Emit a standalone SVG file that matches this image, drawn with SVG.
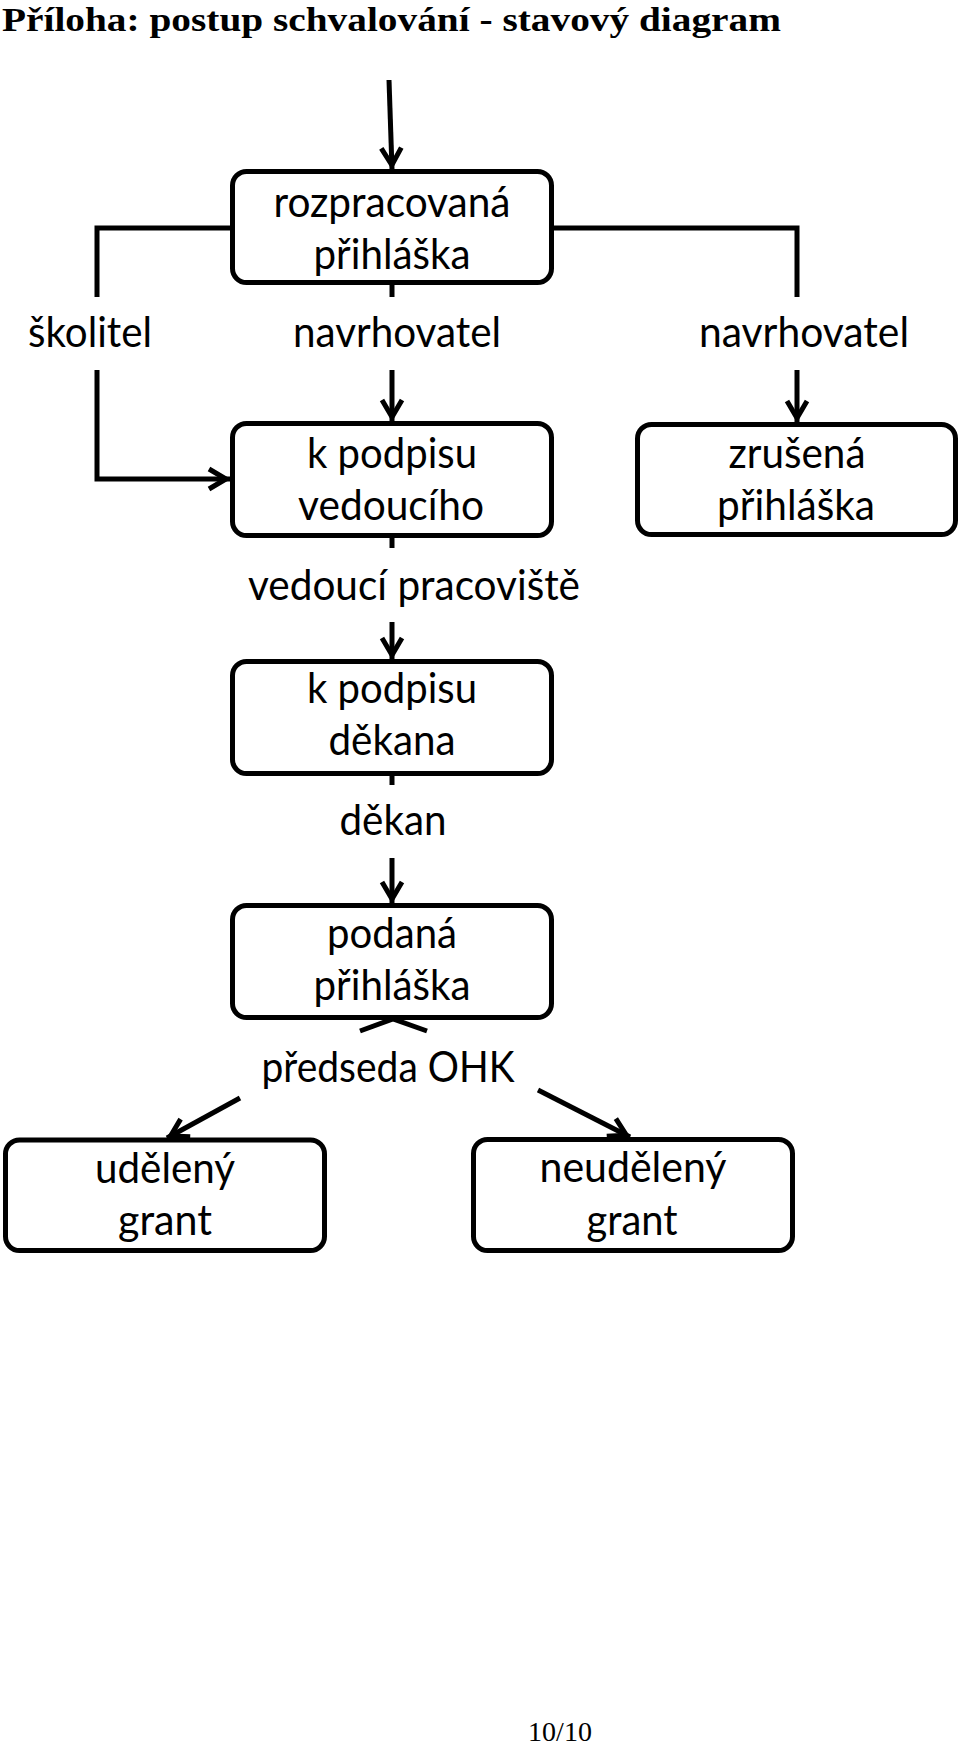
<svg xmlns="http://www.w3.org/2000/svg" width="960" height="1744" viewBox="0 0 960 1744">
<style>
.box{fill:#fff;stroke:#000;stroke-width:5}
.t{font-family:Lato,"Open Sans",sans-serif;font-size:42px;text-anchor:middle;fill:#000}
.ln{fill:none;stroke:#000;stroke-width:5}
.ar{marker-end:url(#ah)}
.title{font-family:"Liberation Serif","Times New Roman",serif;font-weight:bold;font-size:34px;fill:#000}
.pg{font-family:"Liberation Serif","Times New Roman",serif;font-size:28px;fill:#000;text-anchor:middle}
</style>
<defs>
<marker id="ah" viewBox="-26 -14 28 28" refX="0" refY="0" markerWidth="28" markerHeight="28" markerUnits="userSpaceOnUse" orient="auto">
<path d="M-21,-10 L-4,0 L-21,10" fill="none" stroke="#000" stroke-width="5"/>
</marker>
</defs>
<rect width="960" height="1744" fill="#fff"/>
<text class="title" x="2" y="31" textLength="779" lengthAdjust="spacingAndGlyphs">Příloha: postup schvalování - stavový diagram</text>

<g id="connectors">
  <g id="e-start"><line class="ln ar" x1="389" y1="80" x2="392" y2="169"/></g>
  <g id="e-skolitel">
    <polyline class="ln" points="232,228 97,228 97,297"/>
    <text class="t" x="90" y="347" textLength="124" lengthAdjust="spacingAndGlyphs">školitel</text>
    <polyline class="ln ar" points="97,370 97,479 230,479"/>
  </g>
  <g id="e-navrh1">
    <line class="ln" x1="392" y1="283" x2="392" y2="297"/>
    <text class="t" x="397" y="347" textLength="208" lengthAdjust="spacingAndGlyphs">navrhovatel</text>
    <line class="ln ar" x1="392" y1="370" x2="392" y2="421"/>
  </g>
  <g id="e-navrh2">
    <polyline class="ln" points="551,228 797,228 797,297"/>
    <text class="t" x="804" y="347" textLength="210" lengthAdjust="spacingAndGlyphs">navrhovatel</text>
    <line class="ln ar" x1="797" y1="370" x2="797" y2="422"/>
  </g>
  <g id="e-vedouci">
    <line class="ln" x1="392" y1="536" x2="392" y2="548"/>
    <text class="t" x="414" y="600" textLength="332" lengthAdjust="spacingAndGlyphs">vedoucí pracoviště</text>
    <line class="ln ar" x1="392" y1="622" x2="392" y2="659"/>
  </g>
  <g id="e-dekan">
    <line class="ln" x1="392" y1="773" x2="392" y2="785"/>
    <text class="t" x="393" y="835" textLength="107" lengthAdjust="spacingAndGlyphs">děkan</text>
    <line class="ln ar" x1="392" y1="858" x2="392" y2="903"/>
  </g>
  <g id="e-ohk">
    <polyline class="ln" points="360,1031 393,1019 427,1031"/>
    <text class="t" x="388" y="1082" textLength="253" lengthAdjust="spacingAndGlyphs">předseda OHK</text>
    <line class="ln ar" x1="240" y1="1098" x2="167" y2="1138"/>
    <line class="ln ar" x1="538" y1="1090" x2="630" y2="1137"/>
  </g>
</g>

<g id="n-rozpracovana">
  <rect class="box" x="232.5" y="171.5" width="319" height="111" rx="14"/>
  <text class="t" x="392" y="217" textLength="237" lengthAdjust="spacingAndGlyphs">rozpracovaná</text>
  <text class="t" x="392" y="269" textLength="157" lengthAdjust="spacingAndGlyphs">přihláška</text>
</g>
<g id="n-podpis-vedouciho">
  <rect class="box" x="232.5" y="423.5" width="319" height="112" rx="14"/>
  <text class="t" x="392" y="468" textLength="170" lengthAdjust="spacingAndGlyphs">k podpisu</text>
  <text class="t" x="391" y="520" textLength="186" lengthAdjust="spacingAndGlyphs">vedoucího</text>
</g>
<g id="n-zrusena">
  <rect class="box" x="637.5" y="424.5" width="318" height="110" rx="14"/>
  <text class="t" x="797" y="468" textLength="137" lengthAdjust="spacingAndGlyphs">zrušená</text>
  <text class="t" x="796" y="520" textLength="158" lengthAdjust="spacingAndGlyphs">přihláška</text>
</g>
<g id="n-podpis-dekana">
  <rect class="box" x="232.5" y="661.5" width="319" height="112" rx="14"/>
  <text class="t" x="392" y="703" textLength="170" lengthAdjust="spacingAndGlyphs">k podpisu</text>
  <text class="t" x="392" y="755" textLength="127" lengthAdjust="spacingAndGlyphs">děkana</text>
</g>
<g id="n-podana">
  <rect class="box" x="232.5" y="905.5" width="319" height="112" rx="14"/>
  <text class="t" x="392" y="948" textLength="130" lengthAdjust="spacingAndGlyphs">podaná</text>
  <text class="t" x="392" y="1000" textLength="157" lengthAdjust="spacingAndGlyphs">přihláška</text>
</g>
<g id="n-udeleny">
  <rect class="box" x="5.5" y="1140" width="319" height="110.5" rx="14"/>
  <text class="t" x="165" y="1183" textLength="140" lengthAdjust="spacingAndGlyphs">udělený</text>
  <text class="t" x="165" y="1235" textLength="94" lengthAdjust="spacingAndGlyphs">grant</text>
</g>
<g id="n-neudeleny">
  <rect class="box" x="473.5" y="1139.5" width="319" height="111" rx="14"/>
  <text class="t" x="633" y="1182" textLength="187" lengthAdjust="spacingAndGlyphs">neudělený</text>
  <text class="t" x="632" y="1235" textLength="91" lengthAdjust="spacingAndGlyphs">grant</text>
</g>

<text class="pg" x="560" y="1741">10/10</text>
</svg>
